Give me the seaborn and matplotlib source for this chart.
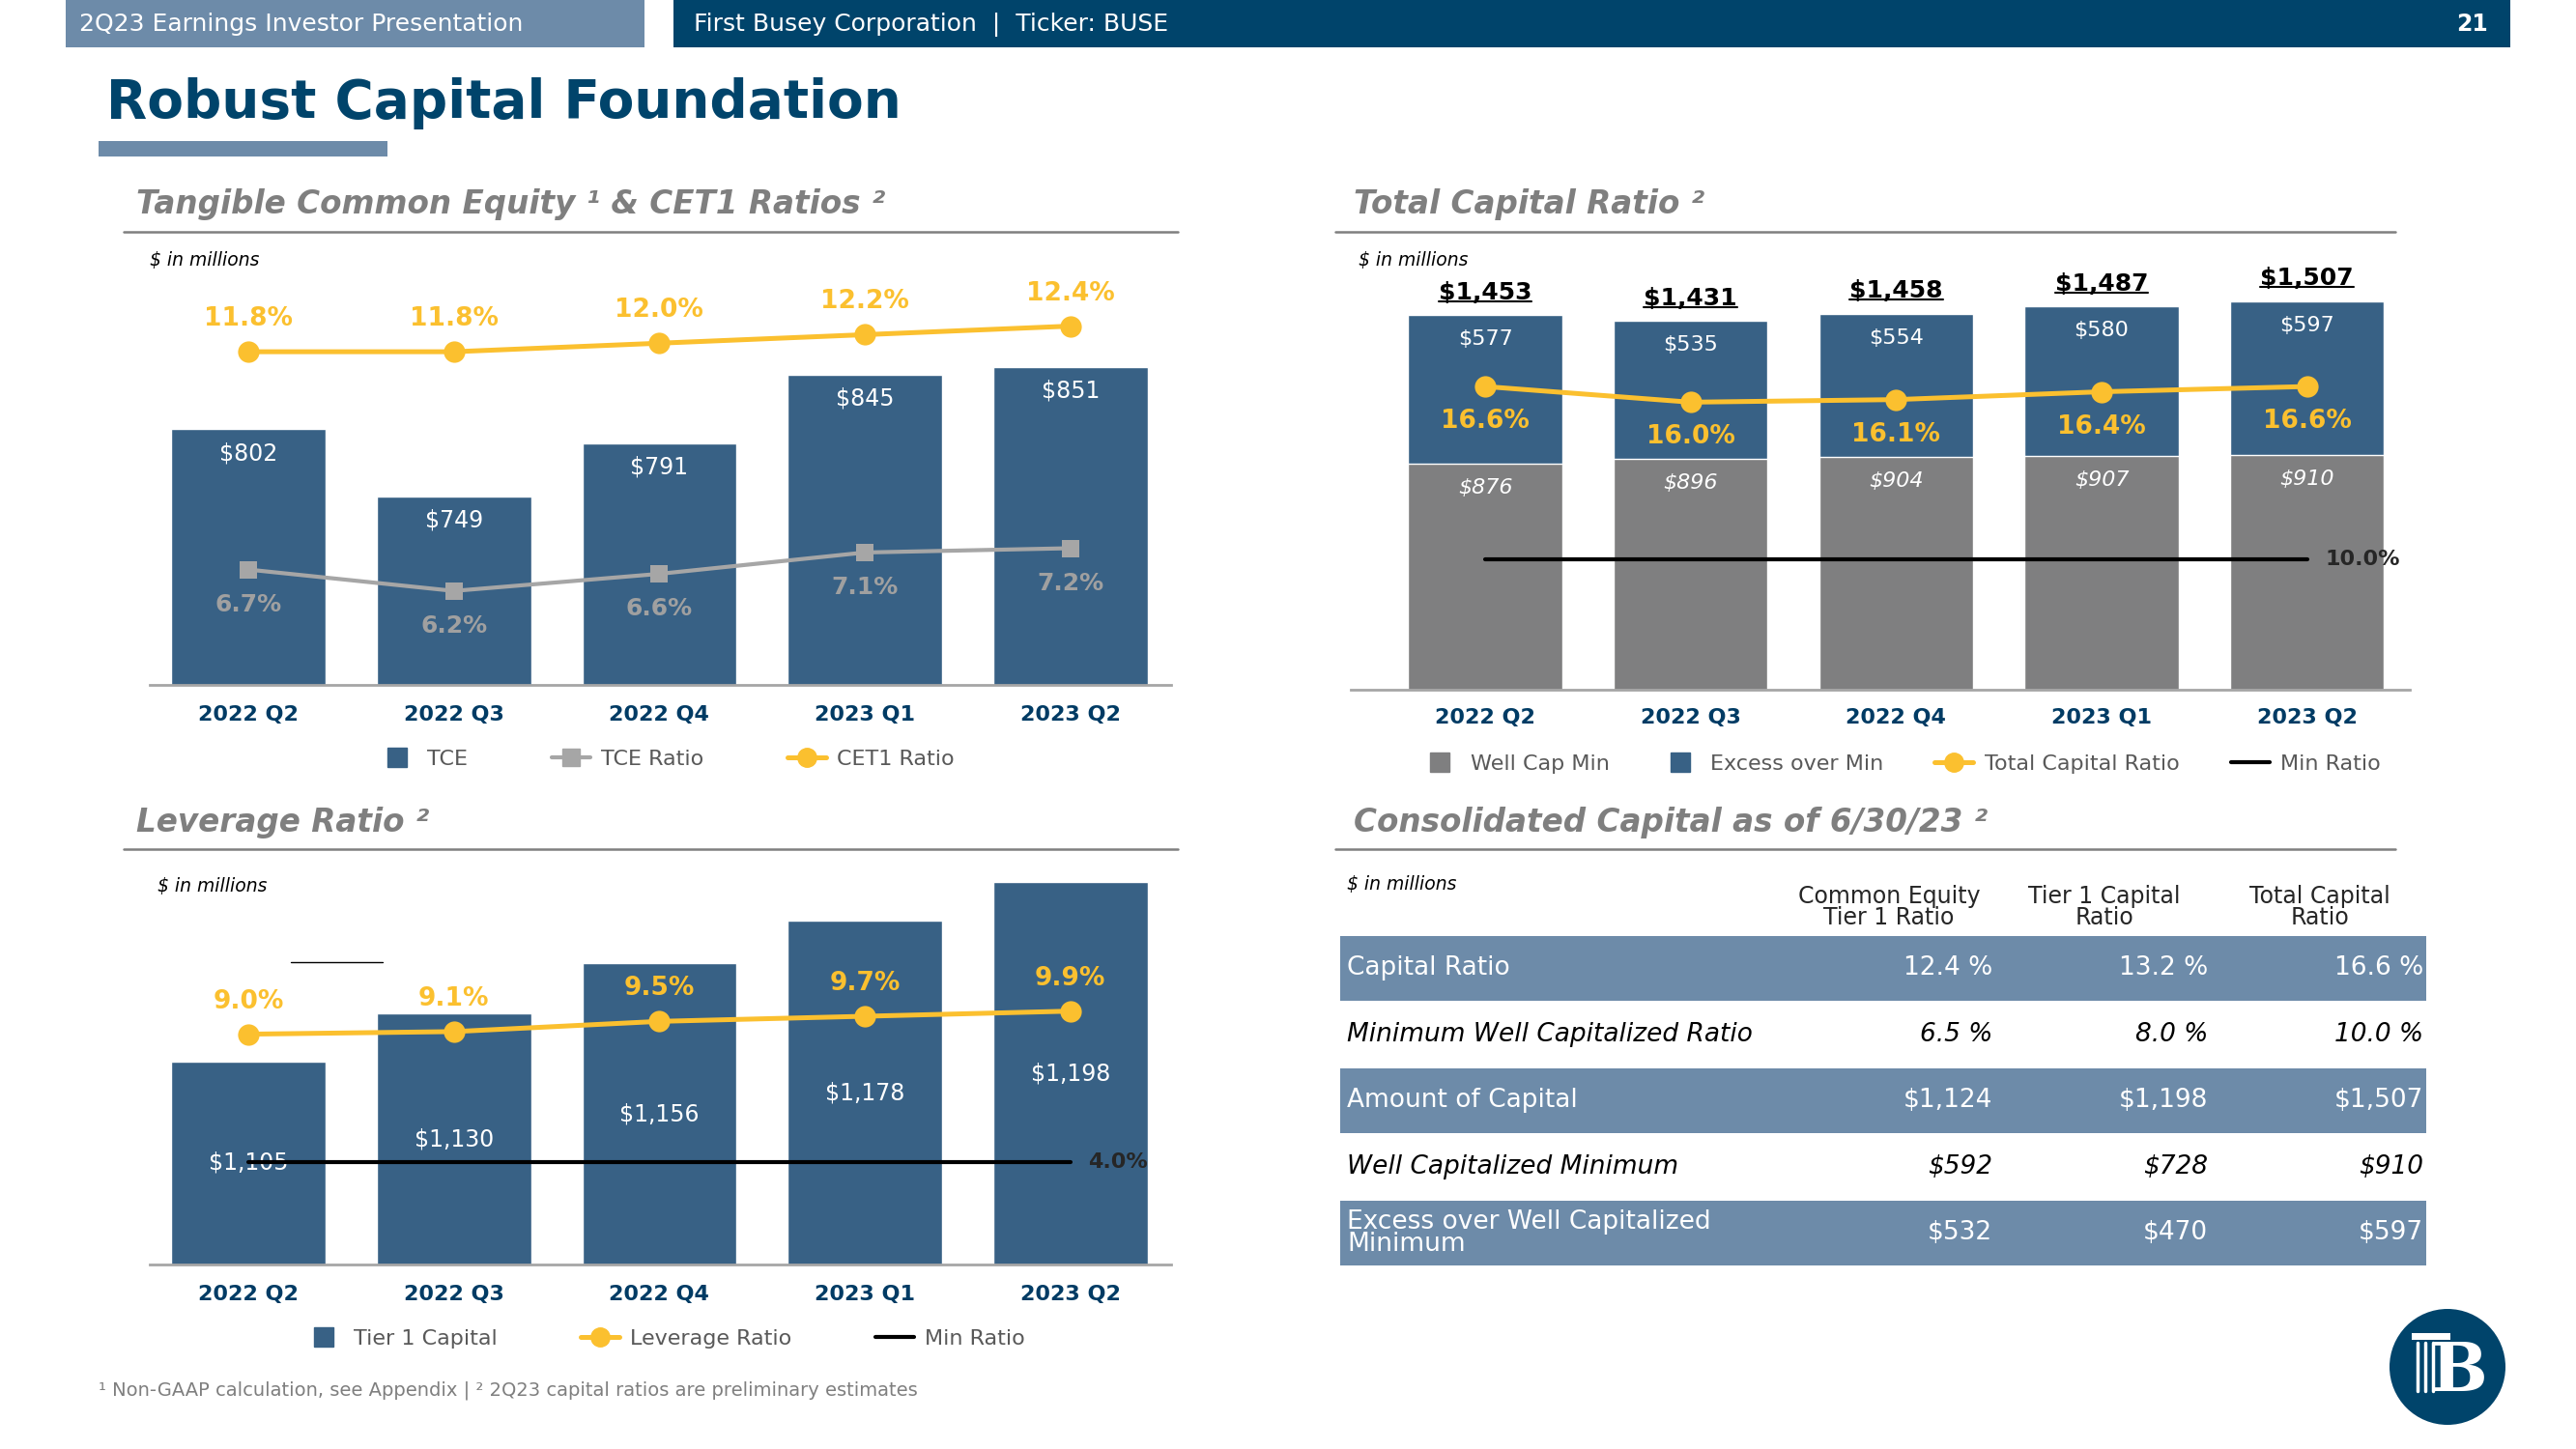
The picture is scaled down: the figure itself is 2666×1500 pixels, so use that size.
import numpy as np
import pandas as pd
import matplotlib
matplotlib.use("Agg")
import matplotlib.pyplot as plt
import seaborn as sns
from matplotlib.lines import Line2D
from matplotlib.patches import Rectangle, Circle
from matplotlib.transforms import IdentityTransform

# data
quarters = ["2022 Q2", "2022 Q3", "2022 Q4", "2023 Q1", "2023 Q2"]

tce = [802, 749, 791, 845, 851]
tce_ratio = [6.7, 6.2, 6.6, 7.1, 7.2]
cet1_ratio = [11.8, 11.8, 12.0, 12.2, 12.4]

well_cap_min = [876, 896, 904, 907, 910]
excess_over_min = [577, 535, 554, 580, 597]
total_capital_ratio = [16.6, 16.0, 16.1, 16.4, 16.6]
total_min_ratio = 10.0

tier1_capital = [1105, 1130, 1156, 1178, 1198]
leverage_ratio = [9.0, 9.1, 9.5, 9.7, 9.9]
leverage_min_ratio = 4.0

table_columns = ["Common Equity\nTier 1 Ratio", "Tier 1 Capital\nRatio", "Total Capital\nRatio"]
table_rows = ["Capital Ratio", "Minimum Well Capitalized Ratio", "Amount of Capital",
              "Well Capitalized Minimum", "Excess over Well Capitalized\nMinimum"]
table_values = [["12.4 %", "13.2 %", "16.6 %"],
                ["6.5 %", "8.0 %", "10.0 %"],
                ["$1,124", "$1,198", "$1,507"],
                ["$592", "$728", "$910"],
                ["$532", "$470", "$597"]]

# colours
NAVY = "#386185"
DARK = "#00446B"
STEEL = "#6D8BA9"
YELLOW = "#FBC02F"
GRAY_LINE = "#A6A6A6"
GRAY_BAR = "#7F7F80"
TITLE_GRAY = "#7F7F7F"
CAT_NAVY = "#003B64"
LEG_TXT = "#595959"

sns.set_style("white")
plt.rcParams["font.family"] = ["DejaVu Sans"]

W, H = 2666, 1500
fig = plt.figure(figsize=(W / 100, H / 100), dpi=100)

# background/decoration layer in pixel coordinates
deco = fig.add_axes([0, 0, 1, 1], zorder=0)
deco.set_xlim(0, W)
deco.set_ylim(H, 0)
deco.axis("off")


def px_axes(x0, y0, x1, y1):
    a = fig.add_axes([x0 / W, 1 - y1 / H, (x1 - x0) / W, (y1 - y0) / H], zorder=2)
    a.set_facecolor("none")
    return a


def style(ax, twin, pad):
    for s in ["top", "right", "left"]:
        ax.spines[s].set_visible(False)
    ax.spines["bottom"].set_color(GRAY_LINE)
    ax.spines["bottom"].set_linewidth(2)
    ax.set_yticks([])
    ax.set_xlabel("")
    ax.set_ylabel("")
    ax.tick_params(axis="x", length=0, pad=pad, labelsize=16, labelcolor=CAT_NAVY)
    for t in ax.get_xticklabels():
        t.set_fontweight("bold")
    for s in twin.spines.values():
        s.set_visible(False)
    twin.set_yticks([])
    twin.set_ylabel("")
    twin.set_facecolor("none")


# header
deco.add_patch(Rectangle((68, 0), 599, 49, color=STEEL, lw=0))
deco.add_patch(Rectangle((697, 0), 1901, 49, color=DARK, lw=0))
deco.text(82, 25, "2Q23 Earnings Investor Presentation", color="white", fontsize=18, va="center")
deco.text(718, 25, "First Busey Corporation  |  Ticker: BUSE", color="white", fontsize=18, va="center")
deco.text(2575, 25, "21", color="white", fontsize=17, fontweight="bold", va="center", ha="right")

deco.text(110, 107, "Robust Capital Foundation", color=DARK, fontsize=39.5, fontweight="bold", va="center")
deco.add_patch(Rectangle((102, 146), 299, 16, color=STEEL, lw=0))

# section titles + rules
sections = [(141, 212, "Tangible Common Equity ¹ & CET1 Ratios ²", 128, 1219, 240),
            (1401, 212, "Total Capital Ratio ²", 1382, 2479, 240),
            (141, 852, "Leverage Ratio ²", 128, 1219, 879),
            (1401, 852, "Consolidated Capital as of 6/30/23 ²", 1382, 2479, 879)]
for tx, ty, txt, lx0, lx1, ly in sections:
    deco.text(tx, ty, txt, color=TITLE_GRAY, fontsize=23.5, fontweight="bold", fontstyle="italic", va="center")
    deco.plot([lx0, lx1], [ly, ly], color=TITLE_GRAY, lw=1.8)

for mx, my in [(155, 270), (1406, 270), (163, 917), (1394, 915)]:
    deco.text(mx, my, "$ in millions", fontsize=13.5, fontstyle="italic", color="black", va="center")
deco.plot([301, 396], [996, 996], color="black", lw=1)

x = np.arange(len(quarters))

# --- Tangible Common Equity & CET1 ---
df1 = pd.DataFrame({"quarter": quarters, "tce": tce})
ax1 = px_axes(155, 300, 1212, 709)
sns.barplot(data=df1, x="quarter", y="tce", color=NAVY, width=0.75, saturation=1, ax=ax1)
ax1.set_ylim(600, 912)
for xi, v in zip(x, tce):
    ax1.annotate(f"${v}", (xi, v), xytext=(0, -18), textcoords="offset points",
                 ha="center", va="center", color="white", fontsize=17)
ax1b = ax1.twinx()
sns.lineplot(x=x, y=tce_ratio, ax=ax1b, color=GRAY_LINE, linewidth=3, marker="s",
             markersize=13, markeredgewidth=0)
sns.lineplot(x=x, y=cet1_ratio, ax=ax1b, color=YELLOW, linewidth=3.6, marker="o",
             markersize=16, markeredgewidth=0)
ax1b.set_ylim(4, 13.25)
for xi, v in zip(x, tce_ratio):
    ax1b.annotate(f"{v:.1f}%", (xi, v), xytext=(0, -26), textcoords="offset points",
                  ha="center", va="center", color="#A0A0A0", fontsize=18, fontweight="bold")
for xi, v in zip(x, cet1_ratio):
    ax1b.annotate(f"{v:.1f}%", (xi, v), xytext=(0, 24.5), textcoords="offset points",
                  ha="center", va="center", color=YELLOW, fontsize=19, fontweight="bold")
ax1.set_xlim(-0.48, 4.49)
style(ax1, ax1b, 15)

# --- Total Capital Ratio ---
df2 = pd.DataFrame({"quarter": quarters, "min": well_cap_min, "excess": excess_over_min})
df2["total"] = df2["min"] + df2["excess"]
ax2 = px_axes(1398, 300, 2494, 714)
sns.barplot(data=df2, x="quarter", y="total", color=NAVY, width=0.75, saturation=1, ax=ax2)
sns.barplot(data=df2, x="quarter", y="min", color=GRAY_BAR, width=0.75, saturation=1, ax=ax2)
ax2.set_ylim(0, 1552)
total_texts = []
for xi, m, e, t in zip(x, df2["min"], df2["excess"], df2["total"]):
    total_texts.append(ax2.annotate(f"${t:,}", (xi, t), xytext=(0, 17), textcoords="offset points",
                                    ha="center", va="center", color="black", fontsize=18, fontweight="bold"))
    ax2.annotate(f"${e}", (xi, t), xytext=(0, -18), textcoords="offset points",
                 ha="center", va="center", color="white", fontsize=16)
    ax2.annotate(f"${m}", (xi, m), xytext=(0, -18), textcoords="offset points",
                 ha="center", va="center", color="white", fontsize=16, fontstyle="italic")
ax2b = ax2.twinx()
sns.lineplot(x=x, y=[total_min_ratio] * len(x), ax=ax2b, color="black", linewidth=3)
sns.lineplot(x=x, y=total_capital_ratio, ax=ax2b, color=YELLOW, linewidth=3.6, marker="o",
             markersize=16, markeredgewidth=0)
ax2b.set_ylim(5, 20.3)
for xi, v in zip(x, total_capital_ratio):
    ax2b.annotate(f"{v:.1f}%", (xi, v), xytext=(0, -26), textcoords="offset points",
                  ha="center", va="center", color=YELLOW, fontsize=19, fontweight="bold")
ax2b.annotate(f"{total_min_ratio:.1f}%", (x[-1], total_min_ratio), xytext=(13.5, 0),
              textcoords="offset points", ha="left", va="center", fontsize=16, fontweight="bold")
ax2.set_xlim(-0.654, 4.5)
style(ax2, ax2b, 14)

# --- Leverage Ratio ---
df3 = pd.DataFrame({"quarter": quarters, "tier1": tier1_capital})
ax3 = px_axes(155, 901, 1212, 1309)
sns.barplot(data=df3, x="quarter", y="tier1", color=NAVY, width=0.75, saturation=1, ax=ax3)
ax3.set_ylim(1000, 1204)
ymin3 = ax3.get_ylim()[0]
for xi, v in zip(x, tier1_capital):
    ax3.text(xi, (v + ymin3) / 2, f"${v:,}", ha="center", va="center", color="white", fontsize=17)
ax3b = ax3.twinx()
sns.lineplot(x=x, y=[leverage_min_ratio] * len(x), ax=ax3b, color="black", linewidth=3)
sns.lineplot(x=x, y=leverage_ratio, ax=ax3b, color=YELLOW, linewidth=3.6, marker="o",
             markersize=16, markeredgewidth=0)
ax3b.set_ylim(0, 15.4)
for xi, v in zip(x, leverage_ratio):
    ax3b.annotate(f"{v:.1f}%", (xi, v), xytext=(0, 24.5), textcoords="offset points",
                  ha="center", va="center", color=YELLOW, fontsize=19, fontweight="bold")
ax3b.annotate(f"{leverage_min_ratio:.1f}%", (x[-1], leverage_min_ratio), xytext=(13.5, 0),
              textcoords="offset points", ha="left", va="center", fontsize=16, fontweight="bold")
ax3.set_xlim(-0.48, 4.49)
style(ax3, ax3b, 15)

# --- legends ---
sq = dict(linestyle="none", marker="s", markersize=14)
leg_kw = dict(frameon=False, fontsize=16, labelcolor=LEG_TXT, loc="center",
              handlelength=1.8, handletextpad=0.5)
fig.legend(handles=[Line2D([], [], color=NAVY, **sq),
                    Line2D([], [], color=GRAY_LINE, lw=3, marker="s", markersize=13),
                    Line2D([], [], color=YELLOW, lw=3.6, marker="o", markersize=14)],
           labels=["TCE", "TCE Ratio", "CET1 Ratio"], ncol=3, columnspacing=3.9,
           bbox_to_anchor=(689 / W, 1 - 786 / H), **leg_kw)
fig.legend(handles=[Line2D([], [], color=GRAY_BAR, **sq),
                    Line2D([], [], color=NAVY, **sq),
                    Line2D([], [], color=YELLOW, lw=3.6, marker="o", markersize=14),
                    Line2D([], [], color="black", lw=3)],
           labels=["Well Cap Min", "Excess over Min", "Total Capital Ratio", "Min Ratio"],
           ncol=4, columnspacing=2.4, bbox_to_anchor=(1967 / W, 1 - 791 / H), **leg_kw)
fig.legend(handles=[Line2D([], [], color=NAVY, **sq),
                    Line2D([], [], color=YELLOW, lw=3.6, marker="o", markersize=14),
                    Line2D([], [], color="black", lw=3)],
           labels=["Tier 1 Capital", "Leverage Ratio", "Min Ratio"], ncol=3, columnspacing=3.9,
           bbox_to_anchor=(688 / W, 1 - 1386 / H), **leg_kw)

# --- consolidated capital table ---
tab_x0, tab_x1, tab_y0, row_h = 1387, 2511, 969, 68.5
col_centers = [1955, 2178, 2401]
col_rights = [2062, 2285, 2508]
for cx, lab in zip(col_centers, table_columns):
    deco.text(cx, 939, lab, ha="center", va="center", fontsize=17, linespacing=0.9)
for i, (rlab, vals) in enumerate(zip(table_rows, table_values)):
    top = tab_y0 + i * row_h
    shaded = i % 2 == 0
    if shaded:
        deco.add_patch(Rectangle((tab_x0, top), tab_x1 - tab_x0, row_h - 2, color=STEEL, lw=0))
    col = "white" if shaded else "black"
    sty = "normal" if shaded else "italic"
    cy = top + row_h / 2 - 1
    deco.text(1394, cy, rlab, color=col, fontstyle=sty, fontsize=19, va="center", linespacing=0.85)
    for rx, v in zip(col_rights, vals):
        deco.text(rx, cy, v, color=col, fontstyle=sty, fontsize=19, va="center", ha="right")

# footnote
deco.text(102, 1439, "¹ Non-GAAP calculation, see Appendix | ² 2Q23 capital ratios are preliminary estimates",
          color="#7F7F7F", fontsize=14, va="center")

# logo
deco.add_patch(Circle((2533, 1415), 60, color=DARK, lw=0))
deco.text(2545, 1420, "B", color="white", fontsize=50, fontweight="bold", family="DejaVu Serif",
          ha="center", va="center")
deco.add_patch(Rectangle((2496, 1380), 40, 7, color="white", lw=0))
for px in [2502, 2510, 2518]:
    deco.plot([px, px], [1390, 1440], color="white", lw=2.5)

# underline the stacked totals
fig.canvas.draw()
rend = fig.canvas.get_renderer()
for t in total_texts:
    bb = t.get_window_extent(rend)
    fig.add_artist(Line2D([bb.x0, bb.x1], [bb.y0 + 3, bb.y0 + 3], transform=IdentityTransform(),
                          color="black", lw=1.5))

fig.savefig("out.png", dpi=100)
